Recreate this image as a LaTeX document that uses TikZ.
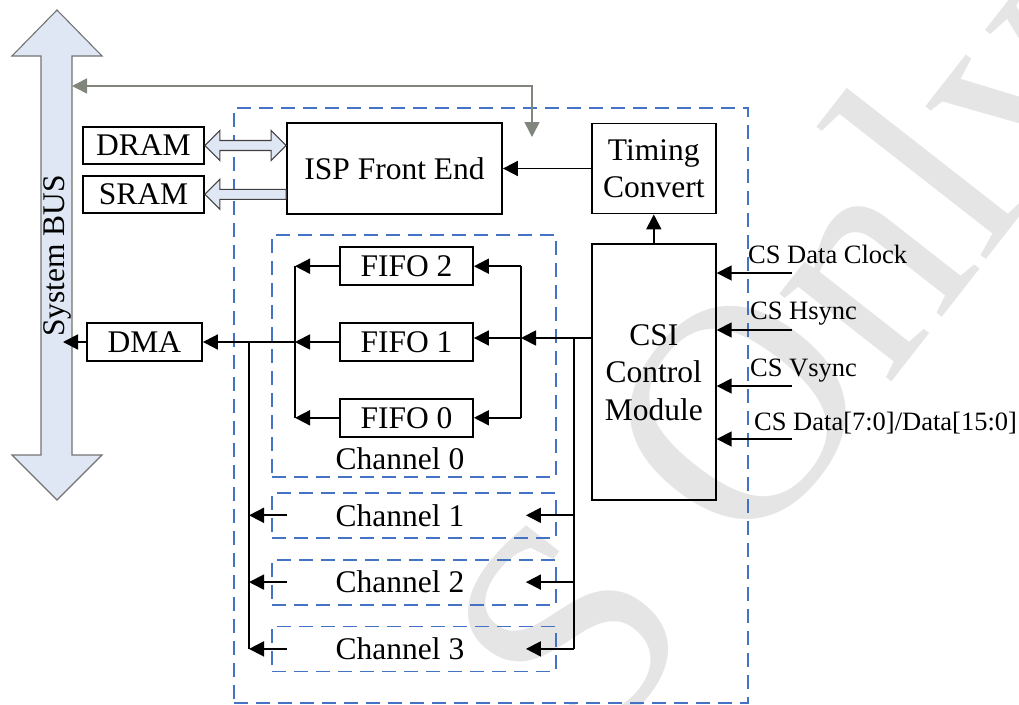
\documentclass[tikz,border=0pt]{standalone}
\usepackage{fontspec}
\setmainfont{Liberation Serif}
\usepackage{tikz}
\usetikzlibrary{positioning,arrows.meta,calc}
\definecolor{azul}{RGB}{68,114,196}
\definecolor{celeste}{RGB}{222,231,243}
\definecolor{gris}{RGB}{128,134,124}
\definecolor{marca}{RGB}{229,229,229}
\tikzset{caja/.style={draw,line width=1.8pt,inner sep=0pt,align=center,font=\fontsize{31.5}{37.5}\selectfont}}
\tikzset{linea/.style={line width=1.8pt}}
\tikzset{flecha/.style={line width=1.8pt,-{Triangle[length=15pt,width=15pt]}}}
\tikzset{flechagris/.style={line width=1.6pt,draw=gris,{Triangle[length=15pt,width=15pt,fill=gris]}-{Triangle[length=15pt,width=15pt,fill=gris]}}}
\tikzset{canal/.style={draw=azul,line width=1.8pt,dash pattern=on 14pt off 8pt,inner sep=0pt}}
\tikzset{bloque/.style={fill=celeste,draw=black!75,line width=1.1pt}}
\tikzset{senal/.style={inner sep=0pt,anchor=base west,font=\fontsize{26.5}{30}\selectfont}}

\begin{document}
\begin{tikzpicture}[x=1pt,y=-1pt]
    \useasboundingbox (0,0) rectangle (1019,704);
    % marca de agua
    \begin{scope}
        \clip (0,0) rectangle (1019,704);
        \node[text=marca,font=\fontsize{310}{310}\selectfont,rotate=52] (marca) at (805,372) {S Only};
    \end{scope}

    % marcos punteados
    \node[canal,minimum width=514pt,minimum height=595pt] (nucleo) at (491,405.5) {};
    \node[canal,minimum width=284pt,minimum height=242pt] (ch0) at (414,356) {};
    \node[canal,minimum width=284pt,minimum height=45pt,below=14pt of ch0,
          label={[font=\fontsize{31.5}{37.5}\selectfont,xshift=-14pt]center:Channel 1}] (ch1) {};
    \node[canal,minimum width=284pt,minimum height=45pt,below=20pt of ch1,
          label={[font=\fontsize{31.5}{37.5}\selectfont,xshift=-14pt]center:Channel 2}] (ch2) {};
    \node[canal,minimum width=284pt,minimum height=45pt,below=20pt of ch2,
          label={[font=\fontsize{31.5}{37.5}\selectfont,xshift=-14pt]center:Channel 3}] (ch3) {};
    \node[font=\fontsize{31.5}{37.5}\selectfont] (ch0lbl) at (400,459) {Channel 0};

    % bus del sistema
    \draw[bloque,draw=black!55] (57,10) -- (102,56) -- (72,56) -- (72,455) -- (102,455)
        -- (57,500) -- (12,455) -- (41,455) -- (41,56) -- (12,56) -- cycle;
    \node[rotate=90,font=\fontsize{31.5}{37.5}\selectfont] (bus) at (57,256) {System BUS};
    \coordinate (busisp) at (72,86);
    \coordinate (busdma) at (63,342);

    % bloques
    \node[caja,minimum width=121pt,minimum height=37pt] (dram) at (143.5,145.5) {DRAM};
    \node[caja,minimum width=121pt,minimum height=37pt,below=10pt of dram] (sram) {SRAM};
    \node[caja,minimum width=215pt,minimum height=91pt] (isp) at (394.5,168.5) {ISP Front End};
    \node[caja,minimum width=124pt,minimum height=90pt,right=88pt of isp] (timing) {Timing\\Convert};
    \node[caja,minimum width=124pt,minimum height=256pt,below=29pt of timing] (csi) {CSI\\Control\\Module};
    \node[caja,minimum width=133pt,minimum height=38pt] (fifo1) at (406.5,342) {FIFO 1};
    \node[caja,minimum width=133pt,minimum height=38pt,above=36pt of fifo1] (fifo2) {FIFO 2};
    \node[caja,minimum width=133pt,minimum height=38pt,below=36pt of fifo1] (fifo0) {FIFO 0};
    \node[caja,minimum width=115pt,minimum height=38pt] (dma) at (144.5,342) {DMA};

    % flechas de bloque
    \coordinate (da) at (dram.east);
    \coordinate (db) at (dram.east -| isp.west);
    \draw[bloque] (da) -- ++(15,-15) -- ++(0,10) -- ($(db)+(-15,-5)$) -- ++(0,-10) -- (db)
        -- ++(-15,15) -- ++(0,-10) -- ($(da)+(15,5)$) -- ++(0,10) -- cycle;
    \coordinate (sa) at (sram.east);
    \coordinate (sb) at (sram.east -| isp.west);
    \draw[bloque] (sa) -- ++(15,-15) -- ++(0,10) -- ($(sb)+(0,-5)$) -- ++(0,10)
        -- ($(sa)+(15,5)$) -- ++(0,10) -- cycle;

    \coordinate (ispbus) at (532,137);
    \draw[flechagris] (busisp) -| (ispbus);
    \draw[flecha] (timing.west) -- (timing.west -| isp.east);
    \draw[flecha] (csi.north) -- (timing.south);

    % entradas
    \foreach \y/\n in {273/1,330/2,386/3,439/4} {
        \coordinate (in\n) at (792,\y);
        \draw[flecha] (in\n) -- (in\n -| csi.east);
    }
    \node[senal] (lclk) at (748,263) {CS Data Clock};
    \node[senal] (lhs) at (750,319) {CS Hsync};
    \node[senal] (lvs) at (750,376) {CS Vsync};
    \node[senal] (ldat) at (754,430) {CS Data[7:0]/Data[15:0]};

    % canal 0
    \coordinate (csiout) at (592,338);
    \coordinate (fder) at (521,338);
    \coordinate (fizq) at (295,342);
    \draw[flecha] (csiout) -- (fder);
    \draw[linea] (fifo2.east -| fder) -- (fifo0.east -| fder);
    \draw[flecha] (fifo2.east -| fder) -- (fifo2.east);
    \draw[flecha] (fder) -- (fder -| fifo1.east);
    \draw[flecha] (fifo0.east -| fder) -- (fifo0.east);
    \draw[linea] (fifo2.west -| fizq) -- (fifo0.west -| fizq);
    \foreach \f in {0,1,2}
        \draw[flecha] (fifo\f.west) -- (fifo\f.west -| fizq);
    \draw[flecha] (fizq) -- (dma.east);
    \draw[flecha] (dma.west) -- (busdma);

    % canales 1-3
    \coordinate (cizq) at (249,342);
    \coordinate (cder) at (574,338);
    \draw[linea] (cizq) -- (cizq |- ch3);
    \draw[linea] (cder) -- (cder |- ch3);
    \foreach \c in {1,2,3} {
        \draw[flecha] ($(ch\c.west)+(16,0)$) -- (cizq |- ch\c);
        \draw[flecha] (cder |- ch\c) -- ($(ch\c.east)+(-31,0)$);
    }
\end{tikzpicture}
\end{document}
